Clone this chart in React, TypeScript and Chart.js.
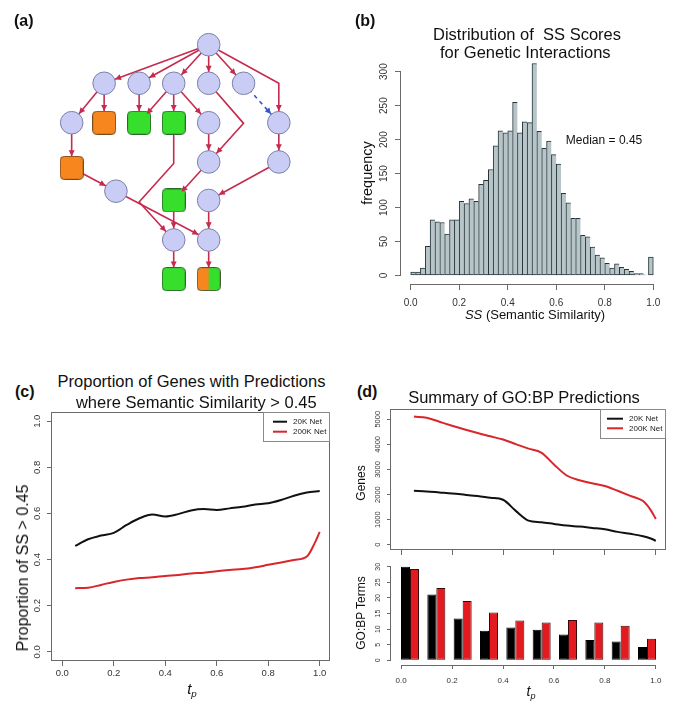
import React, { useEffect, useRef } from 'react';
import { Chart, registerables } from 'chart.js';

Chart.register(...registerables);

const FONT = '"Liberation Sans", Arial, Helvetica, sans-serif';
const AXIS = '#6a6a6a';
const TICK = '#333333';
const RED_EDGE = '#c62a4f';
const BLUE_EDGE = '#3656c8';

// ---------------- (a) GO graph: node layout and edges ----------------
const nodeX = [211.7, 99, 136.7, 174, 211.7, 249.3, 64, 99, 136.7, 174, 211.7, 287.3, 64, 211.7, 287.3, 111.7, 174, 211.7, 174, 211.7, 174, 211.7];
const nodeY = [35, 76.7, 76.7, 76.7, 76.7, 76.7, 119.3, 119.3, 119.3, 119.3, 119.3, 119.3, 168, 161.7, 161.7, 193.3, 203.3, 203.3, 246, 246, 288.3, 288.3];
const nodeKind = ['term', 'term', 'term', 'term', 'term', 'term', 'term', 'orange', 'green', 'green', 'term', 'term', 'orange', 'term', 'term', 'term', 'green', 'term', 'term', 'term', 'green', 'split'];
const edgeFrom = [0, 0, 0, 0, 0, 0, 1, 1, 2, 3, 3, 3, 4, 5, 6, 9, 10, 11, 12, 15, 13, 14, 16, 17, 18, 19];
const edgeTo = [1, 2, 3, 4, 5, 11, 6, 7, 8, 8, 9, 10, 13, 11, 12, 18, 13, 14, 15, 19, 16, 17, 18, 19, 20, 21];
const edgeVia: number[][] = [[], [], [], [], [], [287.3, 76.7], [], [], [], [], [], [], [249.3, 120], [], [], [174, 163.3, 136.7, 205], [], [], [], [], [], [], [], [], [], []];
const edgeType = ['is_a', 'is_a', 'is_a', 'is_a', 'is_a', 'is_a', 'is_a', 'is_a', 'is_a', 'is_a', 'is_a', 'is_a', 'is_a', 'predicted', 'is_a', 'is_a', 'is_a', 'is_a', 'is_a', 'is_a', 'is_a', 'is_a', 'is_a', 'is_a', 'is_a', 'is_a'];

// ---------------- (b) histogram ----------------
const ssBinMid = [0.01, 0.03, 0.05, 0.07, 0.09, 0.11, 0.13, 0.15, 0.17, 0.19, 0.21, 0.23, 0.25, 0.27, 0.29, 0.31, 0.33, 0.35, 0.37, 0.39, 0.41, 0.43, 0.45, 0.47, 0.49, 0.51, 0.53, 0.55, 0.57, 0.59, 0.61, 0.63, 0.65, 0.67, 0.69, 0.71, 0.73, 0.75, 0.77, 0.79, 0.81, 0.83, 0.85, 0.87, 0.89, 0.91, 0.93, 0.95, 0.97, 0.99];
const ssCounts = [5, 5, 11, 43, 82, 79, 78, 61, 82, 82, 109, 106, 113, 109, 134, 140, 156, 191, 213, 210, 213, 255, 210, 226, 225, 312, 212, 187, 198, 178, 164, 121, 107, 84, 84, 59, 57, 42, 30, 26, 18, 11, 17, 12, 9, 6, 3, 3, 1, 27];
const ssXTicks = [0, 0.2, 0.4, 0.6, 0.8, 1.0];
const ssYTicks = [0, 50, 100, 150, 200, 250, 300];
const medianLabel = 'Median = 0.45';

// ---------------- (c) proportion lines ----------------
const seriesNames = ['20K Net', '200K Net'];
const tpC20 = [0.05, 0.1, 0.15, 0.2, 0.25, 0.3, 0.35, 0.4, 0.45, 0.5, 0.55, 0.6, 0.65, 0.7, 0.75, 0.8, 0.85, 0.9, 0.95, 1.0];
const prop20K = [0.459, 0.488, 0.504, 0.516, 0.55, 0.579, 0.595, 0.587, 0.597, 0.613, 0.619, 0.615, 0.622, 0.629, 0.639, 0.644, 0.658, 0.677, 0.691, 0.697];
const tpC200 = [0.05, 0.1, 0.15, 0.2, 0.25, 0.3, 0.35, 0.4, 0.45, 0.5, 0.55, 0.6, 0.65, 0.7, 0.75, 0.8, 0.85, 0.9, 0.95, 0.98, 1.0];
const prop200K = [0.276, 0.278, 0.29, 0.303, 0.313, 0.32, 0.323, 0.329, 0.333, 0.34, 0.343, 0.349, 0.355, 0.359, 0.367, 0.377, 0.387, 0.398, 0.413, 0.47, 0.52];
const unitTicks = [0, 0.2, 0.4, 0.6, 0.8, 1.0];

// ---------------- (d) genes and GO:BP terms ----------------
const tpD = [0.05, 0.1, 0.15, 0.2, 0.25, 0.3, 0.35, 0.4, 0.45, 0.5, 0.55, 0.6, 0.65, 0.7, 0.75, 0.8, 0.85, 0.9, 0.95, 0.98, 1.0];
const genes20K = [2150, 2124, 2084, 2044, 1992, 1939, 1873, 1794, 1350, 963, 897, 831, 765, 725, 673, 620, 514, 435, 343, 250, 158];
const genes200K = [5105, 5060, 4900, 4740, 4590, 4450, 4320, 4190, 4010, 3830, 3670, 3200, 2760, 2570, 2450, 2340, 2150, 1950, 1740, 1380, 1030];
const geneTicks = [0, 1000, 2000, 3000, 4000, 5000];
const goBins = ['0.0-0.1', '0.1-0.2', '0.2-0.3', '0.3-0.4', '0.4-0.5', '0.5-0.6', '0.6-0.7', '0.7-0.8', '0.8-0.9', '0.9-1.0'];
const goTerms20K = [30.0, 21.1, 13.4, 9.5, 10.5, 9.8, 8.3, 6.5, 6.0, 4.3];
const goTerms200K = [29.3, 23.2, 19.0, 15.3, 12.8, 12.1, 12.9, 12.1, 11.1, 6.9];
const goTicks = [0, 5, 10, 15, 20, 25, 30];

// ---------------- helpers ----------------
const fixedTicks = (vals: number[]) => (s: any) => {
  s.ticks = vals.map((v) => ({ value: v }));
};
const noPad = (s: any) => {
  s.paddingLeft = 0;
  s.paddingRight = 0;
  s.paddingTop = 0;
  s.paddingBottom = 0;
};

function xAxis(o: any) {
  return {
    type: 'linear',
    position: 'bottom',
    min: o.min,
    max: o.max,
    offset: false,
    grid: { display: true, drawOnChartArea: false, drawTicks: true, tickLength: o.len, color: AXIS, lineWidth: 1, offset: false },
    border: { display: false },
    ticks: {
      display: o.labels !== false,
      autoSkip: false,
      maxRotation: 0,
      minRotation: 0,
      padding: o.pad,
      color: TICK,
      font: { family: FONT, size: o.size },
      callback: (v: any) => Number(v).toFixed(o.digits),
    },
    afterBuildTicks: fixedTicks(o.vals),
    afterFit: (s: any) => {
      s.height = o.height;
      noPad(s);
    },
  };
}

function yAxis(o: any) {
  return {
    type: 'linear',
    position: 'left',
    min: o.min,
    max: o.max,
    grid: { display: true, drawOnChartArea: false, drawTicks: true, tickLength: o.len, color: AXIS, lineWidth: 1 },
    border: { display: false },
    ticks: {
      autoSkip: false,
      minRotation: 90,
      maxRotation: 90,
      crossAlign: 'center',
      padding: o.pad,
      color: TICK,
      font: { family: FONT, size: o.size },
      callback: (v: any) => Number(v).toFixed(o.digits),
    },
    afterBuildTicks: fixedTicks(o.vals),
    afterFit: (s: any) => {
      s.width = o.width;
      noPad(s);
    },
  };
}

// R-style axis lines (from first to last tick) and optional box
const rAxesPlugin = {
  id: 'rAxes',
  afterDraw(chart: any, _a: any, opts: any) {
    if (!opts || !opts.axes) return;
    const ctx = chart.ctx;
    ctx.save();
    ctx.strokeStyle = AXIS;
    ctx.lineWidth = 1;
    for (const id of opts.axes) {
      const s = chart.scales[id];
      if (!s || !s.ticks.length) continue;
      const a = s.getPixelForValue(s.ticks[0].value);
      const b = s.getPixelForValue(s.ticks[s.ticks.length - 1].value);
      ctx.beginPath();
      if (s.isHorizontal()) {
        const y = Math.round(s.top) + 0.5;
        ctx.moveTo(a, y);
        ctx.lineTo(b, y);
      } else {
        const x = Math.round(s.right) - 0.5;
        ctx.moveTo(x, a);
        ctx.lineTo(x, b);
      }
      ctx.stroke();
    }
    if (opts.box) {
      const ca = chart.chartArea;
      ctx.strokeRect(Math.round(ca.left) - 0.5, Math.round(ca.top) + 0.5, Math.round(ca.right - ca.left), Math.round(ca.bottom - ca.top) - 1);
    }
    ctx.restore();
  },
};

// R-style boxed legend in the top-right corner of the plot region
const rLegendPlugin = {
  id: 'rLegend',
  afterDraw(chart: any, _a: any, o: any) {
    if (!o || !o.w) return;
    const ca = chart.chartArea;
    const ctx = chart.ctx;
    const x0 = Math.round(ca.right - o.w);
    const y0 = Math.round(ca.top);
    ctx.save();
    ctx.fillStyle = '#ffffff';
    ctx.fillRect(x0, y0, o.w, o.h);
    ctx.strokeStyle = '#8a8a8a';
    ctx.lineWidth = 1;
    ctx.strokeRect(x0 + 0.5, y0 + 0.5, o.w - 1, o.h);
    chart.data.datasets.forEach((ds: any, i: number) => {
      const y = y0 + o.rows[i];
      ctx.strokeStyle = ds.borderColor;
      ctx.lineWidth = 2;
      ctx.beginPath();
      ctx.moveTo(x0 + o.l0, y);
      ctx.lineTo(x0 + o.l1, y);
      ctx.stroke();
      ctx.fillStyle = '#222';
      ctx.font = `${o.size}px ${FONT}`;
      ctx.textAlign = 'left';
      ctx.textBaseline = 'middle';
      ctx.fillText(ds.label, x0 + o.tx, y + 0.5);
    });
    ctx.restore();
  },
};

// text placed at data coordinates
const notePlugin = {
  id: 'note',
  afterDraw(chart: any, _a: any, o: any) {
    if (!o || !o.text) return;
    const ctx = chart.ctx;
    const x = chart.scales.x.getPixelForValue(o.x);
    const y = chart.scales.y.getPixelForValue(o.y);
    ctx.save();
    ctx.fillStyle = '#111';
    ctx.font = `${o.size}px ${FONT}`;
    ctx.textAlign = 'center';
    ctx.textBaseline = 'middle';
    ctx.fillText(o.text, x, y);
    ctx.restore();
  },
};

// arrowheads at the ends of edge datasets
const arrowPlugin = {
  id: 'arrows',
  afterDatasetsDraw(chart: any, _a: any, o: any) {
    const ctx = chart.ctx;
    chart.data.datasets.forEach((ds: any, i: number) => {
      if (!ds.arrow) return;
      const pts = chart.getDatasetMeta(i).data;
      const n = pts.length;
      const p1 = pts[n - 2];
      const p2 = pts[n - 1];
      const dx = p2.x - p1.x;
      const dy = p2.y - p1.y;
      const L = Math.hypot(dx, dy) || 1;
      const ux = dx / L;
      const uy = dy / L;
      const tx = p2.x - ux * o.gap;
      const ty = p2.y - uy * o.gap;
      const bx = tx - ux * o.len;
      const by = ty - uy * o.len;
      ctx.save();
      ctx.fillStyle = ds.borderColor;
      ctx.beginPath();
      ctx.moveTo(tx, ty);
      ctx.lineTo(bx - uy * o.half, by + ux * o.half);
      ctx.lineTo(bx + uy * o.half, by - ux * o.half);
      ctx.closePath();
      ctx.fill();
      ctx.restore();
    });
  },
};

function baseOptions(padding: any, plugins: any) {
  return {
    animation: false,
    responsive: false,
    maintainAspectRatio: false,
    events: [],
    layout: { padding },
    plugins: { legend: { display: false }, tooltip: { enabled: false }, ...plugins },
  };
}

function squareImage(left: string, right: string, stroke: string) {
  const c = document.createElement('canvas');
  c.width = 24;
  c.height = 24;
  const g = c.getContext('2d')!;
  const path = () => {
    g.beginPath();
    (g as any).roundRect(0.5, 0.5, 23, 23, 4);
  };
  path();
  g.save();
  g.clip();
  g.fillStyle = left;
  g.fillRect(0, 0, 12, 24);
  g.fillStyle = right;
  g.fillRect(12, 0, 12, 24);
  g.restore();
  path();
  g.strokeStyle = stroke;
  g.lineWidth = 1;
  g.stroke();
  return c;
}

// ---------------- chart configs ----------------
function makeDag() {
  const ORANGE = '#f7861e';
  const GREEN = '#36df2c';
  const imgs: any = {
    orange: squareImage(ORANGE, ORANGE, '#7a4a20'),
    green: squareImage(GREEN, GREEN, '#2a6a2a'),
    split: squareImage(ORANGE, GREEN, '#4a5a3a'),
  };
  const nodes = {
    type: 'scatter',
    order: 0,
    data: nodeX.map((x, i) => ({ x, y: nodeY[i] })),
    pointStyle: nodeKind.map((k) => (k === 'term' ? 'circle' : imgs[k])),
    pointRadius: 11.3,
    pointBackgroundColor: '#c9ccf5',
    pointBorderColor: '#7c80a6',
    pointBorderWidth: 1,
    showLine: false,
  };
  const edges = edgeFrom.map((f, i) => {
    const pts = [{ x: nodeX[f], y: nodeY[f] }];
    const v = edgeVia[i];
    for (let k = 0; k < v.length; k += 2) pts.push({ x: v[k], y: v[k + 1] });
    pts.push({ x: nodeX[edgeTo[i]], y: nodeY[edgeTo[i]] });
    const pred = edgeType[i] === 'predicted';
    return {
      type: 'scatter',
      order: 1,
      data: pts,
      showLine: true,
      borderColor: pred ? BLUE_EDGE : RED_EDGE,
      borderWidth: 1.6,
      borderDash: pred ? [4, 4] : [],
      pointRadius: 0,
      tension: 0,
      arrow: true,
    };
  });
  return {
    type: 'scatter',
    data: { datasets: [nodes, ...edges] },
    options: {
      ...baseOptions(0, { arrows: { gap: 11.6, len: 6, half: 3 } }),
      scales: {
        x: { type: 'linear', min: 0, max: 340, display: false },
        y: { type: 'linear', min: 0, max: 330, reverse: true, display: false },
      },
    },
    plugins: [arrowPlugin],
  };
}

function makeHist() {
  return {
    type: 'bar',
    data: {
      datasets: [
        {
          data: ssBinMid.map((x, i) => ({ x, y: ssCounts[i] })),
          backgroundColor: '#b7c5c9',
          borderColor: '#26353a',
          borderWidth: (c: any) => ({ top: 1, bottom: 1, left: 1, right: c.dataIndex === ssCounts.length - 1 ? 1 : 0 }),
          borderSkipped: false,
          categoryPercentage: 1,
          barPercentage: 1,
        },
      ],
    },
    options: {
      ...baseOptions({ top: 10, right: 7, left: 0, bottom: 0 }, {
        rAxes: { axes: ['x', 'y'] },
        note: { text: medianLabel, x: 0.797, y: 199, size: 12 },
      }),
      scales: {
        x: xAxis({ min: -0.04, max: 1.04, vals: ssXTicks, digits: 1, size: 10, len: 6, pad: 7, height: 36 }),
        y: yAxis({ min: -12.5, max: 324.5, vals: ssYTicks, digits: 0, size: 10, len: 6, pad: 2, width: 46 }),
      },
    },
    plugins: [rAxesPlugin, notePlugin],
  };
}

function lineDs(label: string, xs: number[], ys: number[], color: string) {
  return {
    label,
    data: xs.map((x, i) => ({ x, y: ys[i] })),
    borderColor: color,
    backgroundColor: color,
    borderWidth: 2,
    pointRadius: 0,
    cubicInterpolationMode: 'monotone',
    fill: false,
  };
}

function makeProp() {
  return {
    type: 'line',
    data: {
      datasets: [lineDs(seriesNames[0], tpC20, prop20K, '#111111'), lineDs(seriesNames[1], tpC200, prop200K, '#d8262b')],
    },
    options: {
      ...baseOptions({ top: 7, right: 10, left: 0, bottom: 0 }, {
        rAxes: { axes: [], box: true },
        rLegend: { w: 67, h: 29, l0: 10, l1: 24, tx: 30, rows: [9.7, 19.7], size: 8 },
      }),
      scales: {
        x: xAxis({ min: -0.04, max: 1.04, vals: unitTicks, digits: 1, size: 9.5, len: 5, pad: 2, height: 44 }),
        y: yAxis({ min: -0.04, max: 1.04, vals: unitTicks, digits: 1, size: 9.5, len: 5, pad: 3, width: 47 }),
      },
    },
    plugins: [rAxesPlugin, rLegendPlugin],
  };
}

function makeGenes() {
  return {
    type: 'line',
    data: {
      datasets: [lineDs(seriesNames[0], tpD, genes20K, '#111111'), lineDs(seriesNames[1], tpD, genes200K, '#d8262b')],
    },
    options: {
      ...baseOptions({ top: 9, right: 9, left: 0, bottom: 0 }, {
        rAxes: { axes: [], box: true },
        rLegend: { w: 66, h: 29, l0: 7, l1: 23, tx: 29, rows: [9.7, 19.3], size: 8 },
      }),
      scales: {
        x: xAxis({ min: -0.04, max: 1.04, vals: unitTicks, digits: 1, size: 8, len: 5, pad: 2, height: 10, labels: false }),
        y: yAxis({ min: -208, max: 5408, vals: geneTicks, digits: 0, size: 7.5, len: 4, pad: 1, width: 46 }),
      },
    },
    plugins: [rAxesPlugin, rLegendPlugin],
  };
}

function makeTerms() {
  const barDs = (label: string, vals: number[], fill: string, border: string) => ({
    label,
    xAxisID: 'xi',
    yAxisID: 'y',
    data: vals.map((v, i) => ({ x: goBins.indexOf(goBins[i]), y: v })),
    backgroundColor: fill,
    borderColor: border,
    borderWidth: 1,
    borderSkipped: false,
    categoryPercentage: 0.6835,
    barPercentage: 1,
  });
  return {
    type: 'bar',
    data: {
      datasets: [barDs(seriesNames[0], goTerms20K, '#000000', '#000000'), barDs(seriesNames[1], goTerms200K, '#e31a1f', '#3a0808')],
    },
    options: {
      ...baseOptions({ top: 3, right: 9, left: 0, bottom: 0 }, { rAxes: { axes: ['x', 'y'] } }),
      scales: {
        xi: {
          type: 'linear',
          display: false,
          min: -0.7215,
          max: 9.7215,
          offset: false,
          grid: { offset: false },
          afterBuildTicks: (s: any) => {
            s.ticks = [];
          },
        },
        x: xAxis({ min: -0.04, max: 1.04, vals: unitTicks, digits: 1, size: 8, len: 4, pad: 7, height: 35 }),
        y: yAxis({ min: -1.5, max: 31.2, vals: goTicks, digits: 0, size: 7, len: 4, pad: 5, width: 46 }),
      },
    },
    plugins: [rAxesPlugin],
  };
}

function ChartBox({ left, top, width, height, make }: { left: number; top: number; width: number; height: number; make: () => any }) {
  const ref = useRef<HTMLCanvasElement>(null);
  useEffect(() => {
    const chart = new Chart(ref.current as HTMLCanvasElement, make());
    return () => chart.destroy();
  }, []);
  return <canvas ref={ref} width={width} height={height} style={{ position: 'absolute', left, top, width, height }} />;
}

function Label({ x, y, size, rot, bold, anchor, children }: any) {
  const tf = anchor === 'left' ? 'translate(0,-50%)' : 'translate(-50%,-50%)';
  return (
    <div
      style={{
        position: 'absolute',
        left: x,
        top: y,
        transform: tf + (rot ? ' rotate(-90deg)' : ''),
        fontSize: size,
        fontWeight: bold ? 700 : 400,
        lineHeight: 1,
        whiteSpace: 'nowrap',
        fontFamily: FONT,
        color: '#111',
      }}
    >
      {children}
    </div>
  );
}

function Tp({ size }: { size: number }) {
  return (
    <span style={{ fontSize: size }}>
      <span style={{ fontStyle: 'italic' }}>t</span>
      <span style={{ fontStyle: 'italic', fontSize: '0.65em', position: 'relative', top: '0.35em' }}>p</span>
    </span>
  );
}

export default function App() {
  return (
    <div style={{ position: 'absolute', left: 0, top: 0, width: 685, height: 714, background: '#ffffff', overflow: 'hidden' }}>
      <ChartBox left={0} top={0} width={340} height={330} make={makeDag} />
      <ChartBox left={355} top={45} width={315} height={275} make={makeHist} />
      <ChartBox left={5} top={405} width={335} height={300} make={makeProp} />
      <ChartBox left={345} top={400} width={330} height={160} make={makeGenes} />
      <ChartBox left={345} top={560} width={330} height={140} make={makeTerms} />

      <Label x={14} y={21} size={16} bold anchor="left">(a)</Label>
      <Label x={355} y={21} size={16} bold anchor="left">(b)</Label>
      <Label x={15} y={392} size={16} bold anchor="left">(c)</Label>
      <Label x={357} y={392} size={16} bold anchor="left">(d)</Label>

      <Label x={527} y={34} size={16.5}>Distribution of&nbsp; SS Scores</Label>
      <Label x={525.3} y={52} size={16.5}>for Genetic Interactions</Label>
      <Label x={366.7} y={173.3} size={14.5} rot>frequency</Label>
      <Label x={535} y={313.5} size={13}>
        <i>SS</i> (Semantic Similarity)
      </Label>

      <Label x={191.5} y={380.5} size={16.5}>Proportion of Genes with Predictions</Label>
      <Label x={196.3} y={401.5} size={16.5}>where Semantic Similarity &gt; 0.45</Label>
      <Label x={23.3} y={568} size={16} rot>Proportion of SS &gt; 0.45</Label>
      <Label x={192} y={689}>
        <Tp size={15} />
      </Label>

      <Label x={524} y={397} size={16.5}>Summary of GO:BP Predictions</Label>
      <Label x={360.7} y={483} size={12} rot>Genes</Label>
      <Label x={360.7} y={612.7} size={12} rot>GO:BP Terms</Label>
      <Label x={531} y={691}>
        <Tp size={14} />
      </Label>
    </div>
  );
}
